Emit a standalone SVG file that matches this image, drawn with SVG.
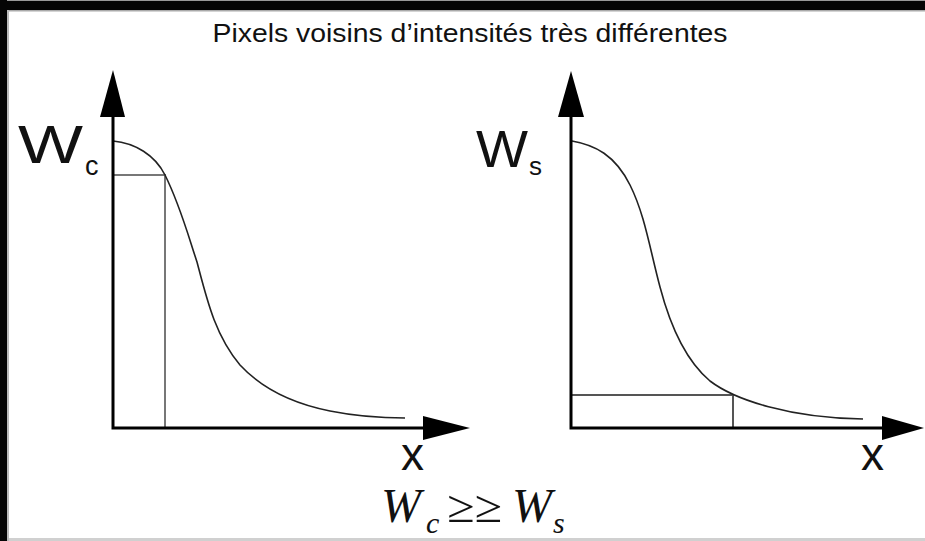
<svg xmlns="http://www.w3.org/2000/svg" width="925" height="541" viewBox="0 0 925 541">
<style>
.axis{stroke:#000;stroke-width:3;fill:none}
.head{fill:#000}
.curve{stroke:#222;stroke-width:1.6;fill:none}
.guide{stroke:#777;stroke-width:2;fill:none}
.guide2{stroke:#555;stroke-width:2;fill:none}
.lbl{font-family:"Liberation Sans",Arial,sans-serif;fill:#111}
.math{font-family:"Liberation Serif","Times New Roman",serif;font-style:italic;fill:#111}
</style>
<rect x="0" y="0" width="925" height="541" fill="#fff"/>
<g id="frame">
<rect x="0" y="0" width="925" height="1" fill="#999"/>
<rect x="0" y="1" width="925" height="9" fill="#050505"/>
<rect x="0" y="10" width="925" height="1.5" fill="#aaa"/>
<rect x="0" y="0" width="7" height="541" fill="#050505"/>
<rect x="7" y="10" width="2" height="531" fill="#bbb"/>
<rect x="9" y="538" width="916" height="3" fill="#d0d0d0"/>
</g>
<g id="title">
<text class="lbl" x="470" y="42" font-size="25" text-anchor="middle" textLength="515" lengthAdjust="spacingAndGlyphs">Pixels voisins d’intensités très différentes</text>
</g>
<g id="chart-left">
<path class="guide" d="M113,175 H165 V428"/>
<path class="curve" d="M113,141 C135,143 155,155 165,175 C180,205 188,235 197,262 C207,300 215,335 240,365 C265,392 300,405 330,411 C360,417 390,418 405,418"/>
<text class="lbl" x="18" y="163" font-size="54" textLength="65" lengthAdjust="spacingAndGlyphs">W</text>
<text class="lbl" x="85" y="175" font-size="27">c</text>
<text class="lbl" x="401" y="470" font-size="46">x</text>
</g>
<g id="chart-right">
<path class="guide2" d="M572,395 H733 V428"/>
<path class="curve" d="M572,141 C595,145 615,155 630,185 C645,215 650,250 660,287 C670,325 685,360 710,381 C735,400 790,418 863,419"/>
<text class="lbl" x="476" y="167" font-size="52" textLength="52" lengthAdjust="spacingAndGlyphs">W</text>
<text class="lbl" x="529" y="175" font-size="26">s</text>
<text class="lbl" x="861" y="470" font-size="46">x</text>
</g>
<g id="connectors">
<path class="axis" d="M113,117 V428 H423"/>
<polygon class="head" points="100,117 113,70 125,117"/>
<polygon class="head" points="423,416 470,428 423,440"/>
<path class="axis" d="M571,117 V428 H882"/>
<polygon class="head" points="558,117 571,71 584,117"/>
<polygon class="head" points="882,416 924,428 882,440"/>
</g>
<g id="formula">
<text class="math" x="381" y="522" font-size="48">W</text>
<text class="math" x="426" y="533" font-size="30">c</text>
<text class="math" x="447" y="522" font-size="46" font-style="normal" textLength="55" lengthAdjust="spacingAndGlyphs">≥≥</text>
<text class="math" x="512" y="522" font-size="48">W</text>
<text class="math" x="553" y="533" font-size="30">s</text>
</g>
</svg>
